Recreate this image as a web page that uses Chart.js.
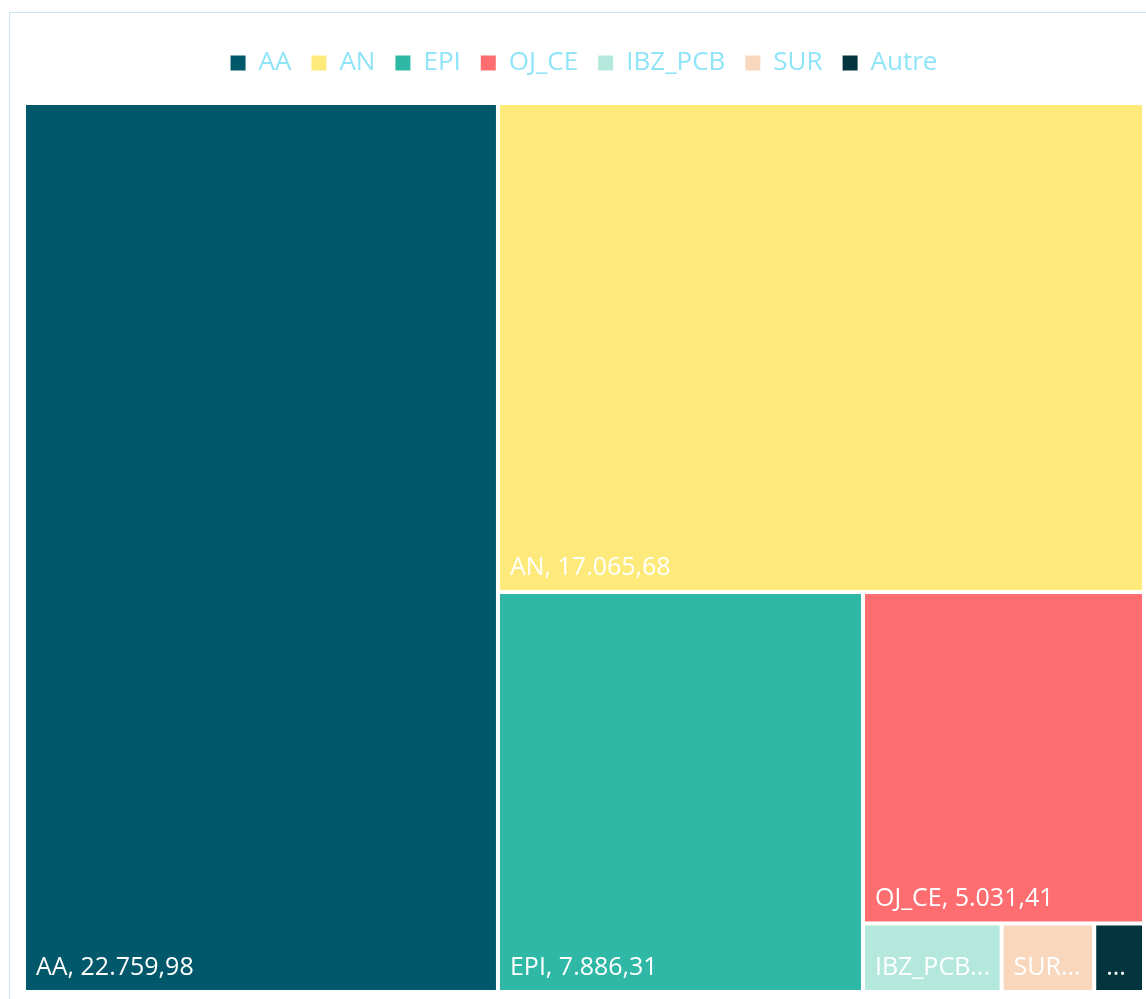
<!DOCTYPE html>
<html>
<head>
<meta charset="utf-8">
<title>Treemap</title>
<script src="https://cdn.jsdelivr.net/npm/chart.js@4.4.1/dist/chart.umd.min.js"></script>
<style>
    html, body { margin: 0; padding: 0; background: #ffffff; overflow: hidden; }
    #card { position: absolute; left: 9px; top: 12px; width: 1160px; height: 1010px; border: 1px solid #c9e7f1; }
    #wrap { position: absolute; left: 0; top: 0; width: 1146px; height: 999px; }
</style>
</head>
<body>
<div id="card"></div>
<div id="wrap"><canvas id="treeChart"></canvas></div>
<script>
// Treemap data
const categories = ['AA', 'AN', 'EPI', 'OJ_CE', 'IBZ_PCB', 'SUR', 'Autre'];
const values = [22759.98, 17065.68, 7886.31, 5031.41, 513.20, 342.75, 184.30];
const colors = ['#01586b', '#feea7a', '#30b8a6', '#fe6e71', '#b4e8dd', '#f9d7bd', '#04353f'];

const fontFamily = '"Segoe UI", "Open Sans", "Noto Sans", sans-serif';
const numberFormat = new Intl.NumberFormat('de-DE', { minimumFractionDigits: 2, maximumFractionDigits: 2 });

// squarified layout
function worst(row, side) {
    const s = row.reduce((a, d) => a + d.area, 0);
    let max = 0;
    row.forEach(d => {
        const len = d.area / s * side;
        const thick = s / side;
        max = Math.max(max, len / thick, thick / len);
    });
    return max;
}

function layoutRow(row, r, out) {
    const s = row.reduce((a, d) => a + d.area, 0);
    if (r.w >= r.h) {
        const w = s / r.h;
        let yy = r.y;
        row.forEach(d => { const h = d.area / w; out.push({ ...d, x: r.x, y: yy, w: w, h: h }); yy += h; });
        return { x: r.x + w, y: r.y, w: r.w - w, h: r.h };
    }
    const h = s / r.w;
    let xx = r.x;
    row.forEach(d => { const w = d.area / h; out.push({ ...d, x: xx, y: r.y, w: w, h: h }); xx += w; });
    return { x: r.x, y: r.y + h, w: r.w, h: r.h - h };
}

function squarify(items, rect) {
    const total = items.reduce((a, d) => a + d.value, 0);
    const k = rect.w * rect.h / total;
    const nodes = items.map(d => ({ ...d, area: d.value * k }));
    const out = [];
    let r = { ...rect };
    let row = [];
    let i = 0;
    while (i < nodes.length) {
        const side = Math.min(r.w, r.h);
        const next = row.concat([nodes[i]]);
        if (row.length === 0 || worst(next, side) <= worst(row, side)) {
            row = next;
            i++;
        } else {
            r = layoutRow(row, r, out);
            row = [];
        }
    }
    if (row.length) layoutRow(row, r, out);
    return out;
}

function fitText(ctx, text, maxW) {
    if (ctx.measureText(text).width <= maxW) return text;
    let t = text;
    while (t.length > 0 && ctx.measureText(t + '...').width > maxW) t = t.slice(0, -1);
    return t.replace(/[\s,]+$/, '') + '...';
}

const treemapPlugin = {
    id: 'treemap',
    beforeInit(chart) {
        // extra room between the legend and the cells
        const originalFit = chart.legend.fit;
        chart.legend.fit = function fit() {
            originalFit.bind(chart.legend)();
            this.height += 17;
        };
    },
    afterDatasetsDraw(chart) {
        const { ctx, chartArea, scales: { x, y } } = chart;
        const W = chartArea.right - chartArea.left;
        const H = chartArea.bottom - chartArea.top;
        const items = categories
            .map((c, i) => ({ label: c, value: values[i], color: colors[i], index: i }))
            .filter(d => chart.isDatasetVisible(d.index))
            .sort((a, b) => b.value - a.value);
        const cells = squarify(items, { x: 0, y: 0, w: W, h: H });
        const gap = 2;

        ctx.save();
        cells.forEach(c => {
            const left = x.getPixelForValue(c.x / W) + gap;
            const right = x.getPixelForValue((c.x + c.w) / W) - gap;
            const top = y.getPixelForValue(c.y / H) + gap;
            const bottom = y.getPixelForValue((c.y + c.h) / H) - gap;
            ctx.fillStyle = c.color;
            ctx.fillRect(left, top, right - left, bottom - top);

            ctx.font = '25px ' + fontFamily;
            ctx.fillStyle = '#ffffff';
            ctx.textAlign = 'left';
            ctx.textBaseline = 'alphabetic';
            const text = fitText(ctx, c.label + ', ' + numberFormat.format(c.value), right - left - 12);
            ctx.fillText(text, left + 10, bottom - 15);
        });
        ctx.restore();
    }
};

const treeCtx = document.getElementById('treeChart').getContext('2d');

const treeChart = new Chart(treeCtx, {
    type: 'scatter',
    data: {
        datasets: categories.map((c, i) => ({
            label: c,
            data: [],
            backgroundColor: colors[i],
            borderColor: colors[i],
            borderWidth: 0
        }))
    },
    options: {
        responsive: true,
        maintainAspectRatio: false,
        animation: false,
        layout: {
            padding: { top: 30, left: 24, right: 2, bottom: 7 }
        },
        scales: {
            x: { type: 'linear', min: 0, max: 1, display: false },
            y: { type: 'linear', min: 0, max: 1, reverse: true, display: false }
        },
        plugins: {
            legend: {
                position: 'top',
                labels: {
                    color: '#8fe4f8',
                    boxWidth: 15,
                    boxHeight: 15,
                    padding: 20,
                    font: { size: 26, family: fontFamily }
                }
            },
            tooltip: { enabled: false }
        }
    },
    plugins: [treemapPlugin]
});
</script>
</body>
</html>
